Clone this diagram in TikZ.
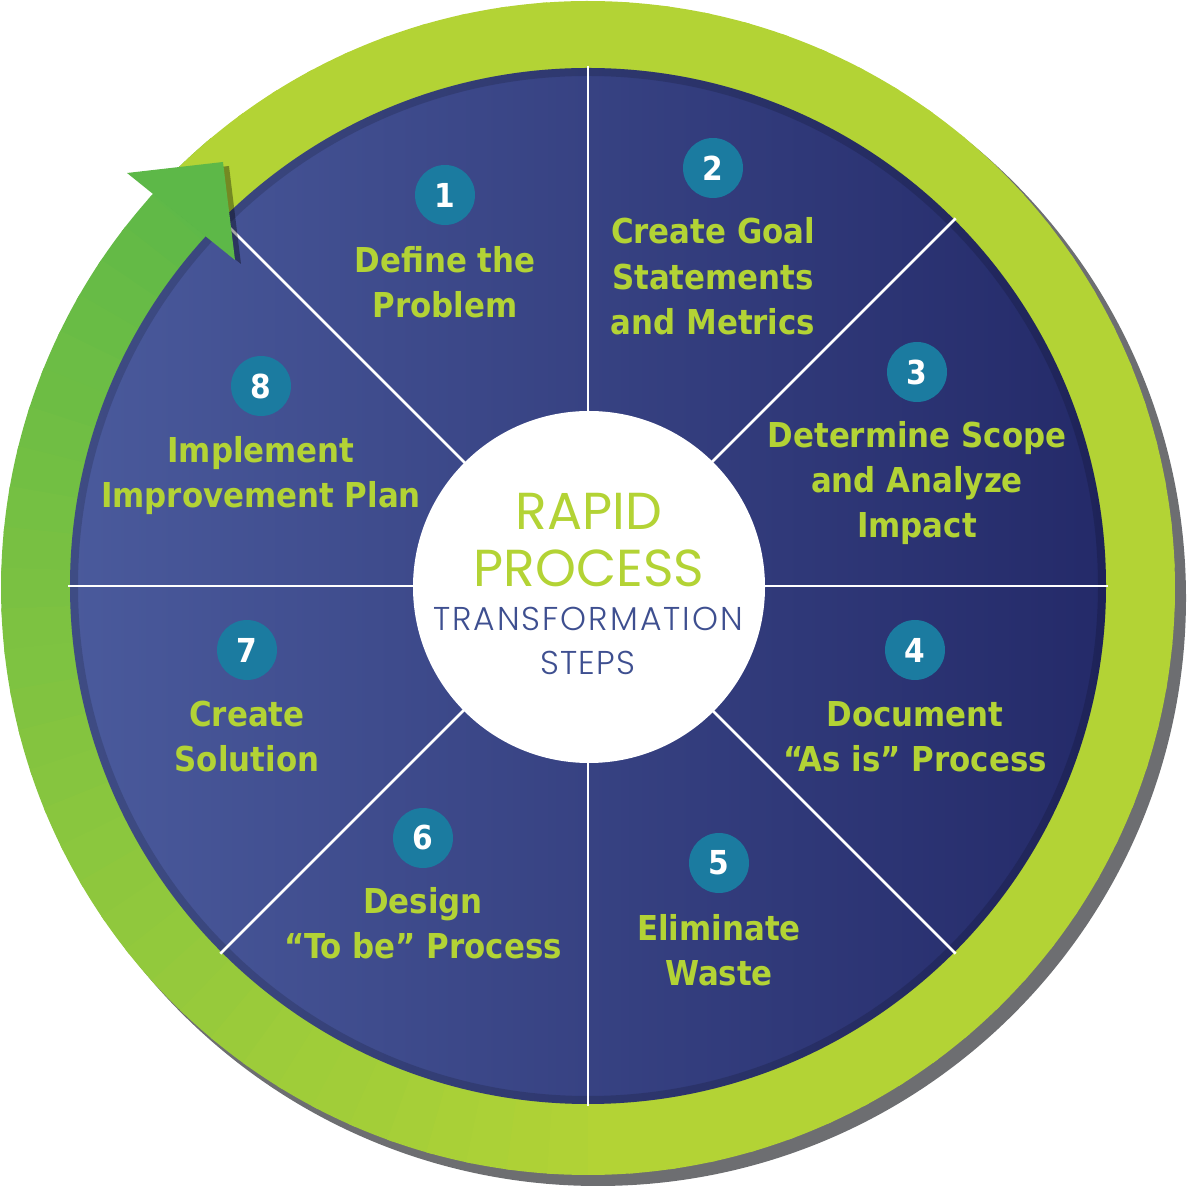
\documentclass[tikz,border=0pt]{standalone}
\usepackage{fontspec}
\newfontfamily\lab{DejaVu Sans Condensed Bold}
\newfontfamily\pop{Poppins}
\newfontfamily\popl{Poppins Light}
\definecolor{lime}{HTML}{B3D335}
\definecolor{grn}{HTML}{5DB848}
\definecolor{navyL}{HTML}{4A5A9C}
\definecolor{navyR}{HTML}{242A69}
\definecolor{tealc}{HTML}{1B7BA0}
\definecolor{txtblue}{HTML}{3E4F90}
\definecolor{shadowgray}{HTML}{6D6E71}
\begin{document}
\begin{tikzpicture}[x=1pt,y=1pt,
  num/.style={circle,fill=tealc,minimum size=60pt,inner sep=0pt,text=white,font=\lab\fontsize{33}{33}\selectfont},
  lbl/.style={text=lime,font=\lab\fontsize{34.3}{34.3}\selectfont,anchor=base,inner sep=0pt},
  divider/.style={white,line width=2.5pt},
  hubtext/.style={anchor=base,inner sep=0pt}]
\useasboundingbox (0,0) rectangle (1200,1200);
% drop shadow of the ring
\fill[shadowgray] (598,602) circle (588);
% green ring with colour change along the arrow
\foreach \a in {-230,-226,...,130} {
  \pgfmathtruncatemacro\p{min(100,max(0,(\a+230)/140*100))}
  \fill[lime!\p!grn] (588,612) -- ++(\a:587) arc[start angle=\a,end angle=\a+4.6,radius=587] -- cycle;
}
% blue wheel
\shade[left color=navyL,right color=navyR] (588,614) circle (518);
\draw[black,opacity=0.15,line width=8pt] (588,614) circle (514);
% dividers
\foreach \a in {0,45,...,315}
  \draw[divider] (588,614) ++(\a:170) -- ++(\a:350);
% arrow head
\fill[black,opacity=0.35] (133,1023) -- (229,1034) -- (241,936) -- cycle;
\fill[grn] (127,1027) -- (223,1038) -- (235,940) -- cycle;
% hub
\node[circle,fill=white,minimum size=352pt,inner sep=0pt] (hub) at (589,613) {};
\node[hubtext,text=lime,font=\pop\fontsize{52}{52}\selectfont] (rapid) at (589,670) {RAPID};
\node[hubtext,text=lime,font=\pop\fontsize{52}{52}\selectfont] (process) at (589,613) {PROCESS};
\node[hubtext,text=txtblue,font=\popl\fontsize{33}{33}\selectfont\addfontfeature{LetterSpace=6}] (transf) at (588,569) {TRANSFORMATION};
\node[hubtext,text=txtblue,font=\popl\fontsize{33}{33}\selectfont\addfontfeature{LetterSpace=3}] (steps) at (588,525) {STEPS};
% number badges
\node[num] (n1) at (445,1005) {1};
\node[num] (n2) at (713,1032) {2};
\node[num] (n3) at (917,828) {3};
\node[num] (n4) at (915,550) {4};
\node[num] (n5) at (719,337) {5};
\node[num] (n6) at (423,362) {6};
\node[num] (n7) at (247,550) {7};
\node[num] (n8) at (261,814) {8};
% labels
\node[lbl] (l1a) at (445,927) {Define the};
\node[lbl] (l1b) at (445,882) {Problem};
\node[lbl] (l2a) at (713,956) {Create Goal};
\node[lbl] (l2b) at (713,910) {Statements};
\node[lbl] (l2c) at (713,865) {and Metrics};
\node[lbl] (l3a) at (917,752) {Determine Scope};
\node[lbl] (l3b) at (917,707) {and Analyze};
\node[lbl] (l3c) at (917,662) {Impact};
\node[lbl] (l4a) at (915,473) {Document};
\node[lbl] (l4b) at (915,428) {“As is” Process};
\node[lbl] (l5a) at (719,259) {Eliminate};
\node[lbl] (l5b) at (719,214) {Waste};
\node[lbl] (l6a) at (423,286) {Design};
\node[lbl] (l6b) at (423,241) {“To be” Process};
\node[lbl] (l7a) at (247,473) {Create};
\node[lbl] (l7b) at (247,428) {Solution};
\node[lbl] (l8a) at (261,737) {Implement};
\node[lbl] (l8b) at (261,692) {Improvement Plan};
\end{tikzpicture}
\end{document}
